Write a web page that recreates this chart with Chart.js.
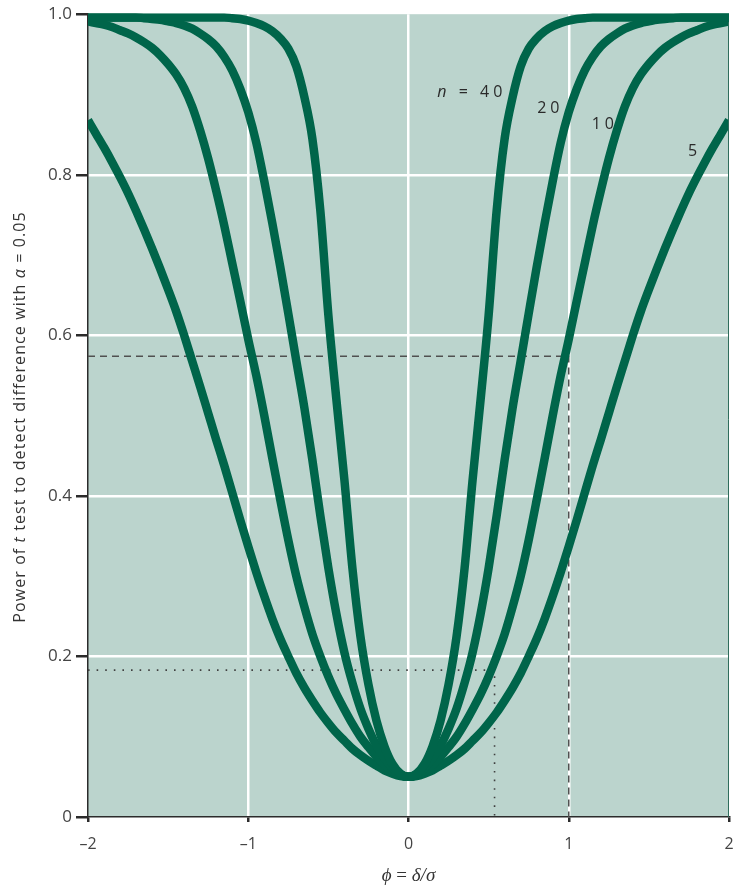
<!DOCTYPE html>
<html>
<head>
<meta charset="utf-8">
<script src="https://cdn.jsdelivr.net/npm/chart.js@4/dist/chart.umd.min.js"></script>
<style>
  html, body { margin: 0; padding: 0; background: #fff; }
  #wrap { width: 743px; height: 887px; }
</style>
</head>
<body>
<div id="wrap"><canvas id="powerChart"></canvas></div>
<script>
// phi = delta/sigma, values every 0.05
const phi = [-2, -1.95, -1.9, -1.85, -1.8, -1.75, -1.7, -1.65, -1.6, -1.55, -1.5, -1.45, -1.4, -1.35, -1.3, -1.25, -1.2, -1.15, -1.1, -1.05,
  -1, -0.95, -0.9, -0.85, -0.8, -0.75, -0.7, -0.65, -0.6, -0.55, -0.5, -0.45, -0.4, -0.35, -0.3, -0.25, -0.2, -0.15, -0.1, -0.05,
  0, 0.05, 0.1, 0.15, 0.2, 0.25, 0.3, 0.35, 0.4, 0.45, 0.5, 0.55, 0.6, 0.65, 0.7, 0.75, 0.8, 0.85, 0.9, 0.95,
  1, 1.05, 1.1, 1.15, 1.2, 1.25, 1.3, 1.35, 1.4, 1.45, 1.5, 1.55, 1.6, 1.65, 1.7, 1.75, 1.8, 1.85, 1.9, 1.95, 2];

const power5 = [0.868, 0.851, 0.834, 0.816, 0.797, 0.777, 0.755, 0.732, 0.708, 0.683, 0.657, 0.63, 0.6, 0.568, 0.536, 0.503, 0.47, 0.438, 0.404, 0.37,
  0.337, 0.305, 0.275, 0.247, 0.222, 0.2, 0.179, 0.161, 0.145, 0.13, 0.117, 0.105, 0.095, 0.085, 0.077, 0.07, 0.064, 0.058, 0.054, 0.051,
  0.05, 0.051, 0.054, 0.058, 0.064, 0.07, 0.077, 0.085, 0.095, 0.105, 0.117, 0.13, 0.145, 0.161, 0.179, 0.2, 0.222, 0.247, 0.275, 0.305,
  0.337, 0.37, 0.404, 0.438, 0.47, 0.503, 0.536, 0.568, 0.6, 0.63, 0.657, 0.683, 0.708, 0.732, 0.755, 0.777, 0.797, 0.816, 0.834, 0.851, 0.868];

const power10 = [0.991, 0.989, 0.987, 0.984, 0.98, 0.976, 0.971, 0.965, 0.958, 0.949, 0.938, 0.925, 0.908, 0.885, 0.855, 0.82, 0.78, 0.737, 0.69, 0.643,
  0.595, 0.55, 0.5, 0.447, 0.395, 0.345, 0.3, 0.262, 0.228, 0.2, 0.175, 0.153, 0.134, 0.116, 0.1, 0.087, 0.075, 0.065, 0.057, 0.052,
  0.05, 0.052, 0.057, 0.065, 0.075, 0.087, 0.1, 0.116, 0.134, 0.153, 0.175, 0.2, 0.228, 0.262, 0.3, 0.345, 0.395, 0.447, 0.5, 0.55,
  0.595, 0.643, 0.69, 0.737, 0.78, 0.82, 0.855, 0.885, 0.908, 0.925, 0.938, 0.949, 0.958, 0.965, 0.971, 0.976, 0.98, 0.984, 0.987, 0.989, 0.991];

const power20 = [0.996, 0.996, 0.996, 0.996, 0.996, 0.996, 0.996, 0.995, 0.994, 0.993, 0.991, 0.989, 0.986, 0.982, 0.976, 0.969, 0.96, 0.947, 0.93, 0.907,
  0.878, 0.84, 0.792, 0.74, 0.685, 0.627, 0.568, 0.51, 0.445, 0.375, 0.31, 0.253, 0.205, 0.167, 0.135, 0.11, 0.089, 0.073, 0.061, 0.053,
  0.05, 0.053, 0.061, 0.073, 0.089, 0.11, 0.135, 0.167, 0.205, 0.253, 0.31, 0.375, 0.445, 0.51, 0.568, 0.627, 0.685, 0.74, 0.792, 0.84,
  0.878, 0.907, 0.93, 0.947, 0.96, 0.969, 0.976, 0.982, 0.986, 0.989, 0.991, 0.993, 0.994, 0.995, 0.996, 0.996, 0.996, 0.996, 0.996, 0.996, 0.996];

const power40 = [0.996, 0.996, 0.996, 0.996, 0.996, 0.996, 0.996, 0.996, 0.996, 0.996, 0.996, 0.996, 0.996, 0.996, 0.996, 0.996, 0.996, 0.996, 0.995, 0.994,
  0.992, 0.989, 0.985, 0.979, 0.97, 0.957, 0.935, 0.897, 0.845, 0.755, 0.625, 0.52, 0.42, 0.31, 0.225, 0.165, 0.12, 0.088, 0.066, 0.054,
  0.05, 0.054, 0.066, 0.088, 0.12, 0.165, 0.225, 0.31, 0.42, 0.52, 0.625, 0.755, 0.845, 0.897, 0.935, 0.957, 0.97, 0.979, 0.985, 0.989,
  0.992, 0.994, 0.995, 0.996, 0.996, 0.996, 0.996, 0.996, 0.996, 0.996, 0.996, 0.996, 0.996, 0.996, 0.996, 0.996, 0.996, 0.996, 0.996, 0.996, 0.996];

// worked examples drawn on the figure
const dashX = [-2, 1, 1];
const dashY = [0.574, 0.574, 0];
const dotX = [-2, 0.537, 0.537];
const dotY = [0.183, 0.183, 0];

// curve labels: text and where it sits
const labelText = ["40", "20", "10", "5"];
const labelX = [0.395, 0.885, 1.225, 1.785];
const labelY = [0.903, 0.882, 0.863, 0.829];

const xTicks = [-2, -1, 0, 1, 2];
const yTicks = [0, 0.2, 0.4, 0.6, 0.8, 1.0];

const green = "#00654a";
const pts = (xs, ys) => xs.map((x, i) => ({ x: x, y: ys[i] }));

function curve(ys) {
    return {
        data: pts(phi, ys),
        borderColor: green,
        borderWidth: 8.5,
        pointRadius: 0,
        cubicInterpolationMode: "monotone",
        borderCapStyle: "butt",
        clip: { left: 0, right: 0, top: 1, bottom: 0 }
    };
}

const panel = {
    id: "panel",
    beforeDraw(chart) {
        const { ctx, chartArea: a } = chart;
        ctx.save();
        ctx.fillStyle = "#bbd4cd";
        ctx.fillRect(a.left, a.top, a.right - a.left, a.bottom - a.top);
        ctx.restore();
    },
    afterDraw(chart) {
        const { ctx, chartArea: a, scales } = chart;
        ctx.save();
        // right frame
        ctx.strokeStyle = "#2f6d5c";
        ctx.lineWidth = 1;
        ctx.beginPath();
        ctx.moveTo(a.right - 0.5, a.top + 8);
        ctx.lineTo(a.right - 0.5, a.bottom);
        ctx.stroke();

        // curve labels
        ctx.fillStyle = "#2a2a2a";
        ctx.textBaseline = "middle";
        ctx.letterSpacing = "4px";
        labelText.forEach((t, i) => {
            const px = scales.x.getPixelForValue(labelX[i]);
            const py = scales.y.getPixelForValue(labelY[i]);
            ctx.textAlign = "left";
            if (i === 0) {
                ctx.font = "italic 16px 'Open Sans'";
                const w1 = ctx.measureText("n").width;
                ctx.font = "16px 'Open Sans'";
                const w2 = ctx.measureText(" = 40").width;
                const x0 = px - (w1 + w2) / 2;
                ctx.font = "italic 16px 'Open Sans'";
                ctx.fillText("n", x0, py);
                ctx.font = "16px 'Open Sans'";
                ctx.fillText(" = 40", x0 + w1, py);
            } else {
                ctx.font = "16px 'Open Sans'";
                const w = ctx.measureText(t).width;
                ctx.fillText(t, px - w / 2, py);
            }
        });

        // y title with italic t and alpha
        ctx.letterSpacing = "1.1px";
        const parts = [
            ["Power of ", false], ["t", true], [" test to detect difference with ", false],
            ["\u03b1", true], [" = 0.05", false]
        ];
        const fontFor = it => (it ? "italic " : "") + "16px 'Open Sans'";
        let total = 0;
        parts.forEach(p => { ctx.font = fontFor(p[1]); total += ctx.measureText(p[0]).width; });
        ctx.translate(20, 417);
        ctx.rotate(-Math.PI / 2);
        ctx.textAlign = "left";
        ctx.textBaseline = "middle";
        ctx.fillStyle = "#333";
        let cx = -total / 2;
        parts.forEach(p => {
            ctx.font = fontFor(p[1]);
            ctx.fillText(p[0], cx, 0);
            cx += ctx.measureText(p[0]).width;
        });
        ctx.setTransform(1, 0, 0, 1, 0, 0);
        ctx.letterSpacing = "0px";

        // x title
        const xparts = [["\u03d5", true], [" = ", false], ["\u03b4/\u03c3", true]];
        const xf = it => (it ? "italic " : "") + "19px 'Liberation Serif'";
        total = 0;
        xparts.forEach(p => { ctx.font = xf(p[1]); total += ctx.measureText(p[0]).width; });
        cx = (a.left + a.right) / 2 - total / 2;
        ctx.textBaseline = "middle";
        xparts.forEach(p => {
            ctx.font = xf(p[1]);
            ctx.fillText(p[0], cx, 876);
            cx += ctx.measureText(p[0]).width;
        });
        ctx.restore();
    }
};

const ctx = document.getElementById("powerChart").getContext("2d");
const powerChart = new Chart(ctx, {
    type: "line",
    data: {
        datasets: [
            curve(power40),
            curve(power20),
            curve(power10),
            curve(power5),
            { data: pts(dashX, dashY), borderColor: "#505050", borderWidth: 1.5, borderDash: [7, 5], pointRadius: 0, tension: 0 },
            { data: pts(dotX, dotY), borderColor: "#404040", borderWidth: 1.6, borderDash: [1.6, 7], pointRadius: 0, tension: 0 }
        ]
    },
    options: {
        responsive: true,
        maintainAspectRatio: false,
        animation: false,
        layout: { padding: { top: 14, right: 14, left: 0, bottom: 0 } },
        plugins: { legend: { display: false }, tooltip: { enabled: false } },
        scales: {
            x: {
                type: "linear",
                min: -2,
                max: 2,
                afterBuildTicks: s => { s.ticks = xTicks.map(v => ({ value: v })); },
                afterFit: s => { s.height = 70; s.paddingLeft = 0; s.paddingRight = 0; },
                border: { color: "#2b2b2b", width: 1.5 },
                grid: {
                    color: c => (c.tick.value === -2 || c.tick.value === 2) ? "rgba(0,0,0,0)" : "#ffffff",
                    lineWidth: 2.5,
                    tickColor: "#2b2b2b",
                    tickLength: 5
                },
                ticks: {
                    padding: 13,
                    color: "#444",
                    font: { family: "Open Sans", size: 16 },
                    callback: v => (v < 0 ? "\u2013" + Math.abs(v) : String(v))
                }
            },
            y: {
                min: 0,
                max: 1,
                afterBuildTicks: s => { s.ticks = yTicks.map(v => ({ value: v })); },
                afterFit: s => { s.width = 88; },
                border: { color: "#2b2b2b", width: 1.5 },
                grid: {
                    color: c => (c.tick.value === 0 || c.tick.value === 1) ? "rgba(0,0,0,0)" : "#ffffff",
                    lineWidth: 2.5,
                    tickColor: "#2b2b2b",
                    tickLength: 12
                },
                ticks: {
                    padding: 4,
                    color: "#444",
                    font: { family: "Open Sans", size: 17 },
                    callback: v => (v === 0 ? "0" : v.toFixed(1))
                }
            }
        }
    },
    plugins: [panel]
});
</script>
</body>
</html>
